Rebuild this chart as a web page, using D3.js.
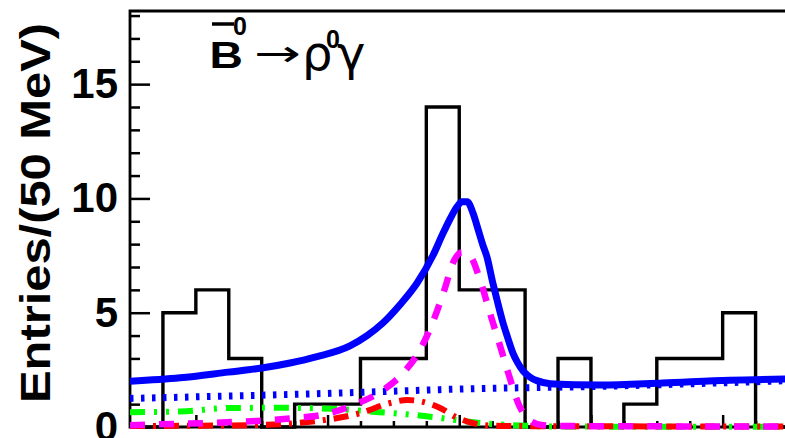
<!DOCTYPE html>
<html><head><meta charset="utf-8">
<script src="https://cdn.jsdelivr.net/npm/d3@7"></script>
<style>body{margin:0;background:#fff}svg{display:block}</style>
</head><body>
<svg id="c" width="785" height="438"></svg>
<script>
// ---- data (ΔE in GeV) ----
const binLow = [-0.5,-0.45,-0.4,-0.35,-0.3,-0.25,-0.2,-0.15,-0.1,-0.05,0,0.05,0.1,0.15,0.2,0.25,0.3,0.35,0.4,0.45];
const counts = [0,5,6,3,0,1,1,3,3,14,6,6,0,3,0,1,3,3,5,0];
const yMajorTicks = [0,5,10,15];
const yMinorTicks = [1,2,3,4,6,7,8,9,11,12,13,14,16,17,18];
const xMajorTicks = [-0.4,-0.2,0,0.2,0.4];
const xMinorTicks = [-0.45,-0.35,-0.3,-0.25,-0.15,-0.1,-0.05,0.05,0.1,0.15,0.25,0.3,0.35,0.45];
const totalFit = [[-0.500,2.00],[-0.424,2.15],[-0.351,2.40],[-0.300,2.58],[-0.257,2.80],[-0.216,3.08],[-0.166,3.55],[-0.140,4.00],[-0.116,4.55],[-0.090,5.35],[-0.064,6.30],[-0.040,7.50],[-0.025,8.45],[-0.014,9.10],[-0.003,9.65],[0.004,9.85],[0.012,9.85],[0.021,9.35],[0.027,8.80],[0.036,7.95],[0.042,7.45],[0.051,6.30],[0.057,5.60],[0.066,4.60],[0.073,3.96],[0.082,3.20],[0.088,2.85],[0.097,2.45],[0.103,2.28],[0.112,2.10],[0.118,2.03],[0.138,1.89],[0.176,1.85],[0.214,1.84],[0.309,1.93],[0.411,2.05],[0.500,2.10]];
const continuumBkg = [[-0.5,1.25],[-0.166,1.5],[0.0,1.66],[0.214,1.78],[0.5,2.03]];
const greenBkg = [[-0.5,0.65],[-0.424,0.68],[-0.348,0.83],[-0.272,0.84],[-0.196,0.80],[-0.136,0.68],[-0.070,0.53],[-0.029,0.40],[0.012,0.24],[0.051,0.13],[0.103,0.05],[0.153,0.02],[0.5,0.01]];
const redBkg = [[-0.5,0.04],[-0.394,0.06],[-0.318,0.08],[-0.257,0.15],[-0.211,0.28],[-0.151,0.6],[-0.105,1.05],[-0.079,1.18],[-0.055,1.1],[-0.029,0.83],[-0.006,0.45],[0.021,0.17],[0.036,0.08],[0.077,0.04],[0.5,0.02]];
const signal = [[-0.500,0.08],[-0.454,0.12],[-0.386,0.17],[-0.342,0.22],[-0.298,0.28],[-0.251,0.39],[-0.208,0.53],[-0.161,0.96],[-0.120,1.53],[-0.085,2.37],[-0.060,3.35],[-0.040,4.6],[-0.022,6.05],[-0.010,7.15],[0.004,7.65],[0.016,7.5],[0.032,6.4],[0.047,4.95],[0.062,3.55],[0.074,2.4],[0.092,0.88],[0.107,0.3],[0.127,0.08],[0.168,0.04],[0.500,0.02]];

// ---- layout ----
const L = 130, R = 788.5, T = 11, B = 427;
const svg = d3.select("#c");
const x = d3.scaleLinear().domain([-0.5,0.5]).range([L,R]);
const y = d3.scaleLinear().domain([0,18.2]).range([B,T]);
const FONT = "'Liberation Sans', Arial, Helvetica, sans-serif";

svg.append("defs").append("clipPath").attr("id","clip")
  .append("rect").attr("x",L).attr("y",T).attr("width",R-L+2).attr("height",B-T+3);

// axes / ticks
function styleAxis(g){ g.select(".domain").remove(); g.selectAll("line").attr("stroke","#000").attr("stroke-width",2.5); }
const yAx = svg.append("g").attr("transform",`translate(${L},0)`)
  .call(d3.axisLeft(y).tickValues(yMajorTicks).tickSize(-20).tickPadding(12).tickFormat(d3.format("d")));
styleAxis(yAx);
yAx.selectAll("text").attr("font-family",FONT).attr("font-weight","bold").attr("font-size",42).attr("fill","#000");
const yAxMin = svg.append("g").attr("transform",`translate(${L},0)`)
  .call(d3.axisLeft(y).tickValues(yMinorTicks).tickSize(-10).tickFormat(""));
styleAxis(yAxMin);
const xAx = svg.append("g").attr("transform",`translate(0,${B})`)
  .call(d3.axisBottom(x).tickValues(xMajorTicks).tickSize(-12).tickFormat(""));
styleAxis(xAx);
const xAxMin = svg.append("g").attr("transform",`translate(0,${B})`)
  .call(d3.axisBottom(x).tickValues(xMinorTicks).tickSize(-6).tickFormat(""));
styleAxis(xAxMin);

// frame
const frame = svg.append("g").attr("stroke","#000").attr("stroke-width",2.8).attr("fill","none");
frame.append("path").attr("d",`M${R+2},${T}H${L}V${B}H${R+2}`);

// histogram
const plot = svg.append("g").attr("clip-path","url(#clip)");
const histPts = binLow.map((b,i)=>[b,counts[i]]).concat([[0.5,counts[counts.length-1]],[0.5,0]]);
plot.append("path").attr("d", d3.line().x(d=>x(d[0])).y(d=>y(d[1])).curve(d3.curveStepAfter)(histPts))
  .attr("fill","none").attr("stroke","#000").attr("stroke-width",3.4);

const line = d3.line().x(d=>x(d[0])).y(d=>y(d[1])).curve(d3.curveMonotoneX);
function curve(data,color,w,dash){
  const p = plot.append("path").attr("d",line(data)).attr("fill","none")
    .attr("stroke",color).attr("stroke-width",w);
  if(dash) p.attr("stroke-dasharray",dash);
}
curve(continuumBkg,"#0000ff",7,"3.5,7.5");
curve(greenBkg,"#00ff00",6,"15,9,3,9,3,9");
curve(redBkg,"#ff0000",6,"15,8,3,8");
curve(totalFit,"#0000ff",7,null);
curve(signal,"#ff00ff",6.5,"15,14");

// y title
svg.append("text").attr("transform","translate(50,213) rotate(-90)").attr("text-anchor","middle")
  .attr("font-family",FONT).attr("font-weight","bold").attr("font-size",42)
  .attr("textLength",380).attr("lengthAdjust","spacingAndGlyphs").text("Entries/(50 MeV)");

// decay label
const t = svg.append("g").attr("fill","#000");
t.append("text").attr("transform","translate(209.5,68) scale(1.25,1)")
  .attr("font-family",FONT).attr("font-weight","bold").attr("font-size",37).text("B");
t.append("line").attr("x1",212).attr("x2",234).attr("y1",24).attr("y2",24).attr("stroke","#000").attr("stroke-width",3.5);
t.append("text").attr("x",233).attr("y",35).attr("font-family",FONT).attr("font-weight","bold").attr("font-size",25).text("0");
t.append("text").attr("x",254).attr("y",66).attr("font-family","'DejaVu Sans', sans-serif").attr("font-size",36)
  .attr("textLength",47).attr("lengthAdjust","spacingAndGlyphs").text("→");
t.append("text").attr("x",302).attr("y",70).attr("font-family","'DejaVu Sans', sans-serif").attr("font-size",48).text("ρ");
t.append("text").attr("x",326).attr("y",48).attr("font-family",FONT).attr("font-weight","bold").attr("font-size",25).text("0");
t.append("text").attr("x",337).attr("y",70).attr("font-family","'DejaVu Sans', sans-serif").attr("font-size",48).text("γ");
</script>
</body></html>
